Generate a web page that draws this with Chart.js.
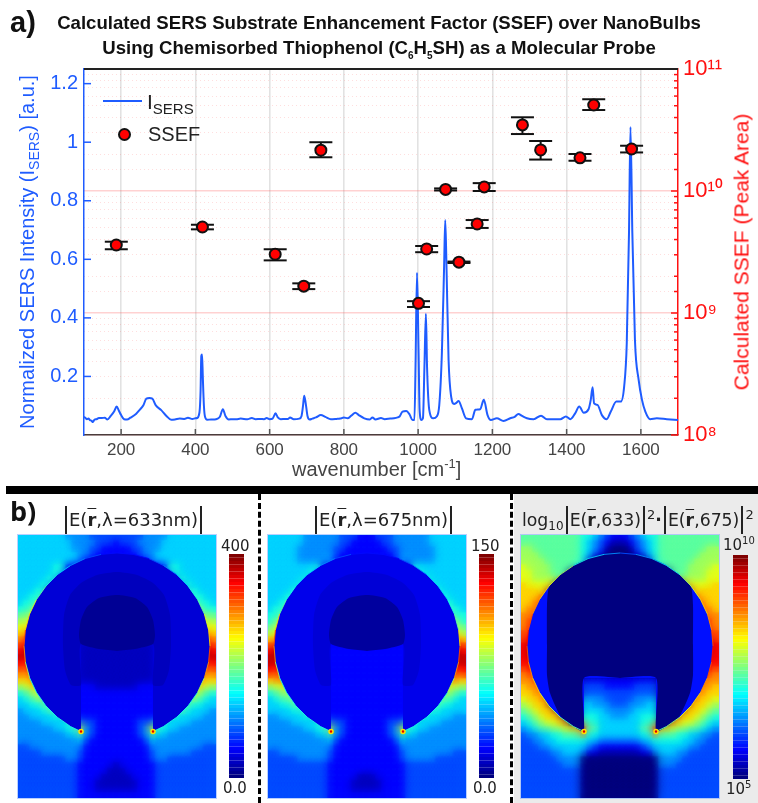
<!DOCTYPE html>
<html>
<head>
<meta charset="utf-8">
<script src="https://cdn.jsdelivr.net/npm/chart.js@4/dist/chart.umd.min.js"></script>
<style>
html,body{margin:0;padding:0;background:#fff;}
#page{position:relative;width:758px;height:803px;overflow:hidden;font-family:"Liberation Sans",Arial,sans-serif;filter:blur(.35px);}
#page canvas{position:absolute;display:block;}
.t{position:absolute;white-space:nowrap;line-height:1;}
.b{font-family:"DejaVu Sans",sans-serif;color:#222;}
.abs{display:inline-block;border-left:2px solid #222;height:28px;vertical-align:-8px;margin:0 2px;}
.rbar{font-weight:bold;text-decoration:overline;}
.map{outline:1px solid rgba(130,170,255,.55);}
sub,sup{line-height:0;}
</style>
</head>
<body>
<div id="page">
  <div style="position:absolute;left:514px;top:494px;width:244px;height:309px;background:#ebebeb"></div>
  <div style="position:absolute;left:6px;top:486px;width:752px;height:8px;background:#000"></div>
  <div style="position:absolute;left:258px;top:494px;height:309px;border-left:3px dashed #000"></div>
  <div style="position:absolute;left:510px;top:494px;height:309px;border-left:3px dashed #000"></div>

  <canvas id="spectrum" width="758" height="486" style="left:0;top:0"></canvas>

  <div class="t" style="left:10px;top:8px;font-size:29px;font-weight:bold;color:#111">a)</div>
  <div class="t" style="left:0;width:758px;top:10px;font-size:18.6px;font-weight:bold;color:#111;text-align:center;line-height:25px">Calculated SERS Substrate Enhancement Factor (SSEF) over NanoBulbs<br>Using Chemisorbed Thiophenol (C<sub style="font-size:10px">6</sub>H<sub style="font-size:10px">5</sub>SH) as a Molecular Probe</div>

  <div class="t" style="left:27px;top:252px;transform:translate(-50%,-50%) rotate(-90deg);font-size:20px;color:#1f5cff">Normalized SERS Intensity (I<sub style="font-size:14px">SERS</sub>) [a.u.]</div>
  <div class="t" style="left:741px;top:252px;transform:translate(-50%,-50%) rotate(-90deg);font-size:21px;color:#ff1010">Calculated SSEF (Peak Area)</div>
  <div class="t" style="left:292px;top:459px;font-size:20px;color:#444">wavenumber [cm<sup style="font-size:13px">-1</sup>]</div>

  <div style="position:absolute;left:103px;top:100px;width:39px;height:2px;background:#1f5cff"></div>
  <div class="t" style="left:147px;top:91px;font-size:21px;color:#222">I<sub style="font-size:15px">SERS</sub></div>
  <div style="position:absolute;left:118px;top:128px;width:9px;height:9px;border-radius:50%;background:#f00;border:2px solid #111"></div>
  <div class="t" style="left:148px;top:124px;font-size:20px;color:#222">SSEF</div>

  <div class="t" style="left:10px;top:497px;font-size:27px;font-weight:bold;color:#111;font-family:'Open Sans',sans-serif">b)</div>
  <div class="t b" style="left:63px;top:506px;font-size:18px"><span class="abs"></span>E(<span class="rbar">r</span>,λ=633nm)<span class="abs"></span></div>
  <div class="t b" style="left:313px;top:506px;font-size:18px"><span class="abs"></span>E(<span class="rbar">r</span>,λ=675nm)<span class="abs"></span></div>
  <div class="t b" style="left:522px;top:506px;font-size:17.3px">log<sub style="font-size:12px">10</sub><span class="abs"></span>E(<span class="rbar">r</span>,633)<span class="abs"></span><sup style="font-size:13px">2</sup><b>·</b><span class="abs"></span>E(<span class="rbar">r</span>,675)<span class="abs"></span><sup style="font-size:13px">2</sup></div>

  <canvas id="fieldA" class="map" width="198" height="263" style="left:18px;top:535px"></canvas>
  <canvas id="fieldB" class="map" width="198" height="263" style="left:268px;top:535px"></canvas>
  <canvas id="fieldC" class="map" width="198" height="263" style="left:521px;top:535px"></canvas>
  <canvas id="barA" width="15" height="224" style="left:229px;top:554px"></canvas>
  <canvas id="barB" width="15" height="224" style="left:479px;top:554px"></canvas>
  <canvas id="barC" width="15" height="224" style="left:733px;top:555px"></canvas>

  <div class="t b" style="left:221px;top:539px;font-size:15px">400</div>
  <div class="t b" style="left:223px;top:781px;font-size:15px">0.0</div>
  <div class="t b" style="left:471px;top:539px;font-size:15px">150</div>
  <div class="t b" style="left:473px;top:781px;font-size:15px">0.0</div>
  <div class="t b" style="left:723px;top:538px;font-size:15px">10<sup style="font-size:10px">10</sup></div>
  <div class="t b" style="left:726px;top:782px;font-size:15px">10<sup style="font-size:10px">5</sup></div>
</div>

<script>
// spectrum
var shiftCm = [
  100,104,108,112,116,120,124,128,134,140,148,156,163,172,181,188,194,200,208,216,225,240,250,260,268,276,284,293,308,322,335,345,358,370,380,392,400,
  405,409,412,414,416,418,420,423,426,432,442,452,460,466,474,481,490,500,510,522,540,552,562,575,585,592,600,608,616,622,630,642,650,655,665,680,686,690,693,697,702,708,
  715,725,738,750,765,780,790,800,810,820,831,840,855,870,877,885,900,910,925,935,945,950,958,968,977,985,990,
  993,997,1001,1004,1009,1013,1017,1021,1024,1030,1041,1050,1057,1064,1070,1073,1076,1082,1089,1097,1103,1109,1118,1129,1145,1154,1167,1177,1187,1196,
  1212,1230,1248,1260,1270,1280,1293,1311,1331,1347,1365,1383,1398,1410,1423,1434,1446,1459,1465,1470,1474,1483,1495,1508,1519,1534,1546,1555,1562,1568,1572,1577,1584,1594,1603,1612,1625,1643,1670,1700
];
var intensity = [
  .062,.058,.054,.056,.051,.049,.044,.052,.054,.058,.058,.059,.053,.065,.080,.097,.083,.068,.054,.053,.059,.072,.086,.102,.124,.126,.124,.102,.085,.065,.052,.053,.056,.055,.059,.055,.057,
  .058,.066,.09,.15,.27,.275,.2,.1,.062,.052,.053,.053,.056,.062,.088,.065,.053,.054,.054,.056,.054,.058,.054,.055,.054,.058,.054,.056,.074,.06,.054,.055,.055,.06,.054,.056,.065,.10,.134,.11,.065,.053,
  .056,.06,.068,.062,.054,.055,.056,.06,.057,.066,.076,.068,.057,.053,.06,.053,.058,.054,.056,.057,.06,.063,.08,.082,.07,.051,.051,
  .234,.554,.30,.086,.051,.057,.234,.414,.234,.086,.057,.063,.103,.28,.576,.734,.6,.257,.131,.106,.11,.116,.091,.057,.054,.086,.088,.12,.068,.051,
  .057,.048,.057,.062,.072,.065,.057,.054,.066,.054,.054,.054,.063,.054,.074,.097,.076,.088,.12,.163,.108,.103,.068,.054,.08,.114,.114,.166,.314,.69,1.052,.69,.325,.188,.12,.08,.054,.057,.054,.051
];

// enhancement factor points and their error bars
var ssefShift = [187,419,615,692,738,1001,1023,1074,1110,1159,1178,1281,1330,1436,1473,1575];
var ssefValue = [3.61e9,5.07e9,3.03e9,1.66e9,2.16e10,1.20e9,3.35e9,1.03e10,2.61e9,5.37e9,1.08e10,3.48e10,2.17e10,1.87e10,5.07e10,2.21e10];
var ssefLow   = [3.33e9,4.85e9,2.70e9,1.57e9,1.89e10,1.12e9,3.15e9,1.01e10,2.57e9,4.98e9,1.00e10,2.93e10,1.81e10,1.77e10,4.61e10,2.07e10];
var ssefHigh  = [3.84e9,5.29e9,3.33e9,1.75e9,2.51e10,1.25e9,3.54e9,1.05e10,2.64e9,5.78e9,1.16e10,4.02e10,2.57e10,2.01e10,5.65e10,2.35e10];

var xTicks = [200,400,600,800,1000,1200,1400,1600];
var yTicks = [0.2,0.4,0.6,0.8,1,1.2];

// colour level per cell (hex, 0-f on the jet scale), left half of each map down to the centre column
var fieldRowsA = [
  "55555555444433333","55555555544443332","55555555544433222","55555555554432222","55555555554222222",
  "55555566222222222","55555566222222222","55555662222222222","55556622222222222","55566222222222222",
  "55667222222222222","56677222222222222","66788222222222222","77899222222222222","889aa222222222222",
  "99aab222222222222","aabbc222222222222","bccdd222222222222","cdddd222221111111","deeee222221111111",
  "eeeee222221111111","ddddd222221111111","ccddd222221111111","bbccc222221111111","aabbb222221111111",
  "89aaa222222221111","67899222222222222","56788222222222222","55667772222222222","45556772222222222",
  "44555566222222222","44445555663332222","4444445566a432222","44444444557432222","44444444445322222",
  "33444444444222222","33334444443222222","33333333443222222","33333333332222221","33333333332222211",
  "33333333332222111","33333333332221111","33333333332221111","33333333332222222"
];
var fieldRowsB = [
  "55555544444433322","55555544444433222","55555444444332222","55555444444322222","55555444445222222",
  "55555555622222222","55555556622222222","55555566222222222","55555662222222222","55556622222222222",
  "55566722222222222","55667722222222222","56677822222222222","66788922222222222","67889a22222222222",
  "7889aa22222222222","899aab22222222222","aabbcc22222222222","ccddde22222222222","deeeee22222222222",
  "eeeeee22222222222","eeeeee22222222222","dddddd22222222222","cccddd22222222222","abbccc22222222222",
  "899aab22222222222","67889a22222222222","56778822222222222","55667722222222222","55556672222222222",
  "44555566222222222","44445555663332222","4444445566a432222","44444444557432222","44444444445322222",
  "44444444444222222","33444444443222222","33333444443222222","33333333332222222","33333333332222222",
  "33333333332222211","33333333332222111","33333333332222111","33333333332222222"
];
var fieldRowsC = [
  "77777777776654322","77777777776543211","88777777776543100","88877777776532000","88887777776200000",
  "98888777766000000","99888777000000000","99888877000000000","a9999a00000000000","aaa9b000000000000",
  "aaabc000000000000","aabcc000000000000","abbcd000000000000","bbccd000000000000","bccdd000000000000",
  "bcddd000000000000","ccddd000000000000","cdddd000000000000","deeee000000000000","deeee000000000000",
  "deeee000000000000","ddeee000000000000","cddee000000000000","bccdd000000000000","bbccd000002222222",
  "abbcc000003333222","aabbc000003333333","9aabb000004444333","89aab000005544433","789aab00005555444",
  "6789aab0006665544","567899ab007665555","45677889aad775555","3445566777b665555","33445566666554444",
  "33344555555432222","33333445554221111","33333344440000000","33333334440000000","33333333330000000",
  "33333333330000000","33333333330000000","33333333330000000","33333333330000000"
];

// bulb rim from the top centre to the neck: offset from the axis, depth from the top of the map
var rimOffset = [0,16,32,46.5,60,71,80.5,87.4,91.6,93,91.6,87.4,80.5,71.2,59.8,46.5,36];
var rimDepth  = [18,19.4,23.6,30.5,39.8,51,64.5,79,94.9,111,127.1,142.8,157.5,170.8,182.2,191.5,196.6];
var rimLevelsA = "22345679acb866666";
var rimLevelsB = "22345567acb866666";
var rimLevelsC = "345689abcdcba9877";

// darker pockets inside the bulb
var midOffset = [0,20,36,47,53,54,52,46,36,36,0];
var midDepth  = [37,40,48,60,80,110,135,150,150,109,109];
var coreOffset = [0,18,30,36,38,36,18,0];
var coreDepth  = [60,63,72,85,100,109,114,116];
var voidOffset = [0,16,32,46.5,60,71,73,73,73,70,59,46.5,36,36,0];
var voidDepth  = [18,19.4,23.6,30.5,40,52,70,110,140,158,182,191.5,196.6,143,143];

var colorbarSteps = 64;
var mapCentre = 99;

function jet(v){
  function c(x){ return Math.round(255*Math.max(0,Math.min(1,1.5-Math.abs(x)))); }
  return 'rgb('+c(4*v-3)+','+c(4*v-2)+','+c(4*v-1)+')';
}
function lvl(ch){ return jet(parseInt(ch,16)/15); }
function isPower(v){ var l = Math.log10(v); return Math.abs(l-Math.round(l))<1e-6; }

var supers = {'0':'⁰','1':'¹','8':'⁸','9':'⁹'};

// short ticks pointing into the plot, plus the black top rule
var innerTicks = {
  id:'innerTicks',
  afterDatasetsDraw:function(chart){
    var c = chart.ctx, a = chart.chartArea, s, i, p;
    c.save();
    c.lineWidth = 1.5;
    s = chart.scales.y; c.strokeStyle = '#1f5cff';
    for(i=0;i<yTicks.length;i++){ p = s.getPixelForValue(yTicks[i]); c.beginPath(); c.moveTo(a.left,p); c.lineTo(a.left+7,p); c.stroke(); }
    s = chart.scales.x; c.strokeStyle = '#555';
    for(i=0;i<xTicks.length;i++){ p = s.getPixelForValue(xTicks[i]); c.beginPath(); c.moveTo(p,a.bottom); c.lineTo(p,a.bottom-6); c.stroke(); }
    s = chart.scales.ssef; c.strokeStyle = '#ff1010';
    for(i=0;i<s.ticks.length;i++){
      p = s.getPixelForValue(s.ticks[i].value);
      c.beginPath(); c.moveTo(a.right,p); c.lineTo(a.right-(isPower(s.ticks[i].value)?7:4),p); c.stroke();
    }
    c.strokeStyle = '#222'; c.lineWidth = 2;
    c.beginPath(); c.moveTo(a.left,a.top); c.lineTo(a.right,a.top); c.stroke();
    c.restore();
  }
};

var errorPts = [];
for(var i=0;i<ssefShift.length;i++){
  errorPts.push({x:ssefShift[i],y:ssefLow[i]},{x:ssefShift[i],y:ssefHigh[i]},{x:ssefShift[i],y:null});
}

new Chart(document.getElementById('spectrum').getContext('2d'),{
  type:'scatter',
  data:{datasets:[
    {label:'ISERS',order:3,showLine:true,yAxisID:'y',pointRadius:0,borderColor:'#1f5cff',borderWidth:2,cubicInterpolationMode:'monotone',
      data:shiftCm.map(function(x,i){return {x:x,y:intensity[i]};})},
    {label:'error',order:2,showLine:true,spanGaps:false,yAxisID:'ssef',borderColor:'#111',borderWidth:2,
      pointStyle:'line',pointRadius:11.5,pointBorderColor:'#111',pointBorderWidth:2,data:errorPts},
    {label:'SSEF',order:1,yAxisID:'ssef',pointRadius:5.5,pointBackgroundColor:'#f00',pointBorderColor:'#111',pointBorderWidth:2,
      data:ssefShift.map(function(x,i){return {x:x,y:ssefValue[i]};})}
  ]},
  plugins:[innerTicks],
  options:{
    responsive:false,animation:false,
    layout:{padding:{top:69}},
    plugins:{legend:{display:false},title:{display:false},tooltip:{enabled:false}},
    scales:{
      x:{type:'linear',min:100,max:1700,
        afterBuildTicks:function(s){ s.ticks = xTicks.map(function(v){return {value:v};}); },
        afterFit:function(s){ s.height = 51; },
        grid:{color:'#e2e2e2',lineWidth:1.6,drawTicks:false},
        border:{color:'#4a3c3c',width:1.5},
        ticks:{color:'#444',padding:5,font:{family:'Liberation Sans',size:17},maxRotation:0,
          callback:function(v){ return String(v); }}},
      y:{position:'left',min:0,max:1.25,
        afterBuildTicks:function(s){ s.ticks = yTicks.map(function(v){return {value:v};}); },
        afterFit:function(s){ s.width = 84; },
        grid:{display:false,drawTicks:false},
        border:{color:'#1f5cff',width:1.5},
        ticks:{color:'#1f5cff',padding:6,font:{family:'Liberation Sans',size:20},
          callback:function(v){ return v===1?'1':v.toFixed(1); }}},
      ssef:{type:'logarithmic',position:'right',min:1e8,max:1e11,
        afterFit:function(s){ s.width = 80; },
        grid:{drawTicks:false,
          lineWidth:function(c){ return c.tick && isPower(c.tick.value)?1.5:1; },
          color:function(c){ return c.tick && isPower(c.tick.value)?'rgba(255,90,90,.28)':'rgba(255,60,60,.17)'; }},
        border:{color:'#ff1010',width:1.5,dash:function(c){ return c.tick && !isPower(c.tick.value)?[1,3]:[]; }},
        ticks:{color:'#ff1010',padding:5,autoSkip:false,maxRotation:0,font:{family:'Liberation Sans',size:22},
          callback:function(v){
            if(!isPower(v)) return '';
            return '10'+String(Math.round(Math.log10(v))).split('').map(function(d){return supers[d];}).join('');
          }}}
    }
  }
});

// the cell grid gets a soft edge so the colour bands run into each other
var softCells = {
  id:'softCells',
  beforeDatasetDraw:function(chart,args){
    if(chart.data.datasets[args.index].soft) chart.ctx.filter = 'blur('+chart.data.datasets[args.index].soft+'px)';
  },
  afterDatasetDraw:function(chart){ chart.ctx.filter = 'none'; }
};

function closedShape(off,dep){
  var pts = [], i;
  for(i=off.length-1;i>=0;i--) pts.push({x:mapCentre-off[i],y:dep[i]});
  for(i=1;i<off.length;i++) pts.push({x:mapCentre+off[i],y:dep[i]});
  return pts;
}

function fieldMap(id,rows,rimLevels,capDepth,pockets){
  var cells = [];
  rows.forEach(function(row,r){
    for(var c=0;c<33;c++){
      cells.push({x:3+6*c,y:3+6*r,v:row[c<=16?c:32-c]});
    }
  });
  function cellColor(c){ return lvl(c.raw.v); }
  var sets = [
    {type:'scatter',order:10,pointStyle:'rect',pointRadius:5.2,pointBorderWidth:0,pointBackgroundColor:cellColor,data:cells},
    {type:'scatter',order:9,soft:4,pointStyle:'rect',pointRadius:6,pointBorderWidth:0,pointBackgroundColor:cellColor,data:cells}
  ];

  var bodyOff = rimOffset.concat([36,0]), bodyDep = rimDepth.concat([capDepth,capDepth]);
  sets.push({type:'line',order:8,data:closedShape(bodyOff,bodyDep),fill:'shape',borderWidth:0,pointRadius:0,backgroundColor:pockets[0].color});
  pockets.slice(1).forEach(function(p,i){
    sets.push({type:'line',order:7-i,data:closedShape(p.off,p.dep),fill:'shape',borderWidth:0,pointRadius:0,backgroundColor:p.color,tension:.2});
  });
  var n = rimOffset.length;
  sets.push({type:'line',order:2,data:closedShape(rimOffset,rimDepth),borderWidth:.9,pointRadius:0,fill:false,
    segment:{borderColor:function(c){ var k = c.p0DataIndex; return lvl(rimLevels[k<n?n-1-k:k-n+1]); }}});
  sets.push({type:'scatter',order:1,pointRadius:2,pointBackgroundColor:'#e00000',pointBorderColor:'#ffe000',pointBorderWidth:1.5,
    data:[{x:mapCentre-36,y:rimDepth[n-1]},{x:mapCentre+36,y:rimDepth[n-1]}]});

  new Chart(document.getElementById(id).getContext('2d'),{
    type:'scatter',
    data:{datasets:sets},
    plugins:[softCells],
    options:{responsive:false,animation:false,layout:{padding:0,autoPadding:false},
      plugins:{legend:{display:false},tooltip:{enabled:false}},
      scales:{x:{type:'linear',display:false,min:0,max:198},y:{type:'linear',display:false,min:0,max:263,reverse:true}}}
  });
}

fieldMap('fieldA',fieldRowsA,rimLevelsA,109,[{color:jet(.085)},{off:midOffset,dep:midDepth,color:jet(.06)},{off:coreOffset,dep:coreDepth,color:jet(.02)}]);
fieldMap('fieldB',fieldRowsB,rimLevelsB,109,[{color:jet(.105)},{off:midOffset,dep:midDepth,color:jet(.085)},{off:coreOffset,dep:coreDepth,color:jet(.03)}]);
fieldMap('fieldC',fieldRowsC,rimLevelsC,143,[{color:jet(.14)},{off:voidOffset,dep:voidDepth,color:jet(0)}]);

function colorbar(id){
  var lv = [], col = [], one = [];
  for(var i=colorbarSteps-1;i>=0;i--){ lv.push(i); col.push(jet(i/(colorbarSteps-1))); one.push(1); }
  new Chart(document.getElementById(id).getContext('2d'),{
    type:'bar',
    data:{labels:lv,datasets:[{data:one,backgroundColor:col,barPercentage:1.02,categoryPercentage:1}]},
    options:{indexAxis:'y',responsive:false,animation:false,layout:{autoPadding:false},
      plugins:{legend:{display:false},tooltip:{enabled:false}},
      scales:{x:{display:false,min:0,max:1},y:{display:false}}}
  });
}
colorbar('barA'); colorbar('barB'); colorbar('barC');
</script>
</body>
</html>
